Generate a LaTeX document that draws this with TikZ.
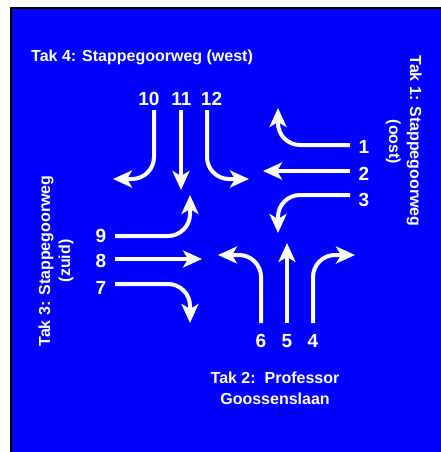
\documentclass[tikz,border=0pt]{standalone}
\usepackage{fontspec}
\setmainfont{Liberation Sans}
\usetikzlibrary{arrows.meta}
\definecolor{bg}{RGB}{0,0,255}
\begin{document}
\begin{tikzpicture}[x=1pt,y=-1pt,
  arr/.style={draw=white, line width=4pt, rounded corners=22pt, -{Stealth[length=19pt,width=17pt,inset=5pt]}},
  num/.style={text=white, font=\fontsize{19}{22}\selectfont\bfseries, inner sep=0pt, anchor=base},
  lbl/.style={text=white, font=\fontsize{16}{20}\selectfont\bfseries, inner sep=0pt}]
\useasboundingbox (0,0) rectangle (441,452);
\clip (0,0) rectangle (441,452);
\draw[line width=2.5pt, fill=bg] (11,8) rectangle (470,480);
% labels
\node[lbl, anchor=base west] (t4) at (31,62) {Tak 4: Stappegoorweg (west)};
\node[lbl, anchor=base, rotate=-90] (t1a) at (410,141) {Tak 1: Stappegoorweg};
\node[lbl, anchor=base, rotate=-90] (t1b) at (389,142) {(oost)};
\node[lbl, anchor=base, rotate=90] (t3a) at (50,261) {Tak 3: Stappegoorweg};
\node[lbl, anchor=base, rotate=90] (t3b) at (70,261) {(zuid)};
\node[lbl, anchor=base] (t2a) at (275,383) {Tak 2:\ \ Professor};
\node[lbl, anchor=base] (t2b) at (275,404) {Goossenslaan};
% numbers
\node[num] (n10) at (149,105) {10};
\node[num] (n11) at (181.5,105) {11};
\node[num] (n12) at (211.5,105) {12};
\node[num] (n1) at (364,153) {1};
\node[num] (n2) at (364,180) {2};
\node[num] (n3) at (364,206) {3};
\node[num] (n9) at (101,242) {9};
\node[num] (n8) at (101,267) {8};
\node[num] (n7) at (101,294) {7};
\node[num] (n6) at (261,347) {6};
\node[num] (n5) at (287,347) {5};
\node[num] (n4) at (313,347) {4};
% arrow endpoints
\coordinate (s10) at (154,110); \coordinate (e10) at (113,179);
\coordinate (s11) at (181,110); \coordinate (e11) at (181,190);
\coordinate (s12) at (207,110); \coordinate (e12) at (249,179);
\coordinate (s1) at (350,145); \coordinate (e1) at (278,108);
\coordinate (s2) at (350,171); \coordinate (e2) at (263,171);
\coordinate (s3) at (350,195); \coordinate (e3) at (278,233);
\coordinate (s9) at (115,236); \coordinate (e9) at (190,195);
\coordinate (s8) at (115,259); \coordinate (e8) at (202,259);
\coordinate (s7) at (115,284); \coordinate (e7) at (190,323);
\coordinate (s6) at (261,323); \coordinate (e6) at (218,255);
\coordinate (s5) at (287,323); \coordinate (e5) at (287,243);
\coordinate (s4) at (313,323); \coordinate (e4) at (355,255);
% arrows
\draw[arr] (s10) |- (e10);
\draw[arr] (s11) -- (e11);
\draw[arr] (s12) |- (e12);
\draw[arr] (s1) -| (e1);
\draw[arr] (s2) -- (e2);
\draw[arr] (s3) -| (e3);
\draw[arr] (s9) -| (e9);
\draw[arr] (s8) -- (e8);
\draw[arr] (s7) -| (e7);
\draw[arr] (s6) |- (e6);
\draw[arr] (s5) -- (e5);
\draw[arr] (s4) |- (e4);
\end{tikzpicture}
\end{document}
